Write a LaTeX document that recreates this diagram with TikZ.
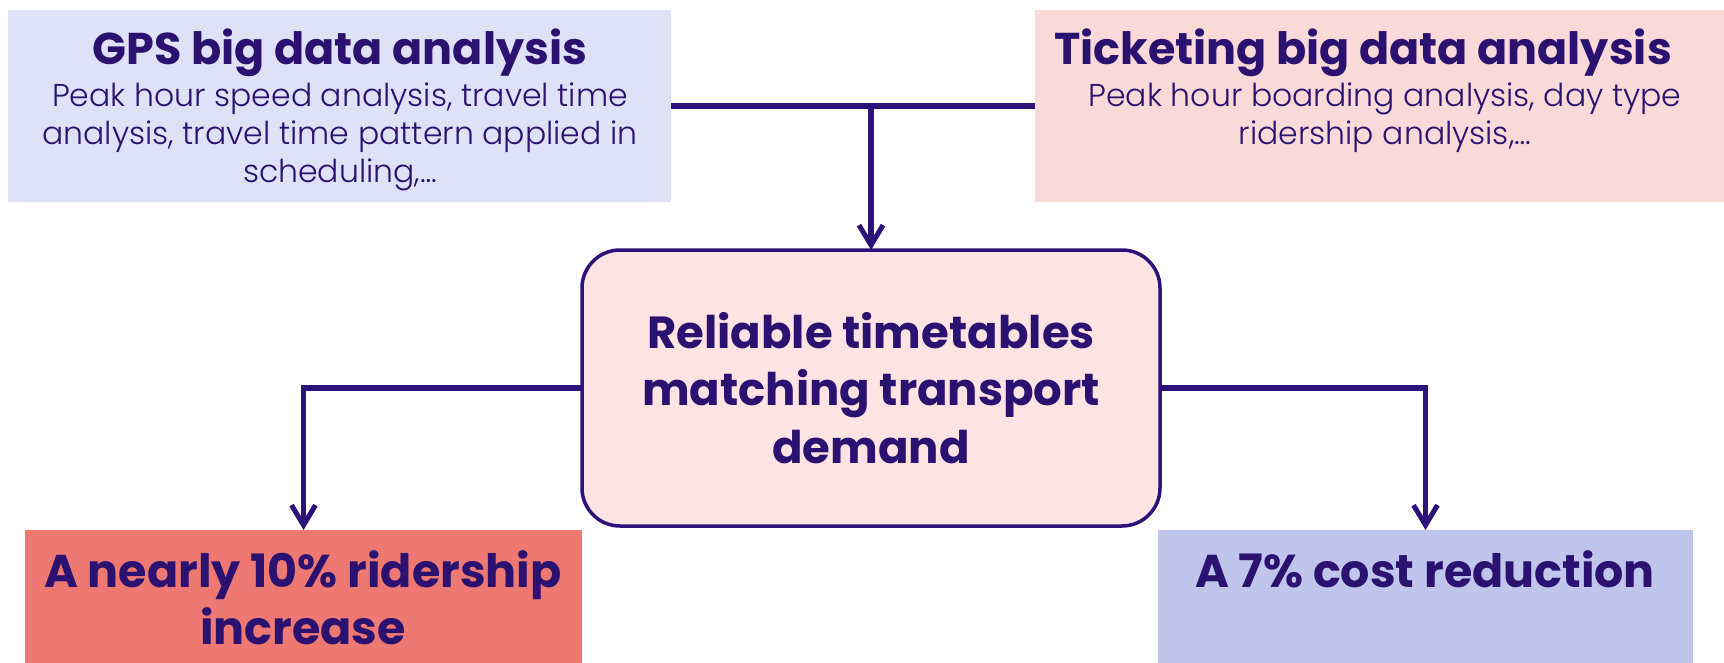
\documentclass[tikz,border=0pt]{standalone}
\usepackage{fontspec}
\setmainfont{Poppins}[BoldFont={* Bold}]
\newfontfamily\lightfont{Poppins}[UprightFont={* Light}]
\usetikzlibrary{arrows.meta}
\definecolor{txt}{HTML}{2B1170}
\definecolor{ln}{HTML}{2C137A}
\definecolor{gpsfill}{HTML}{DFE1F6}
\definecolor{tickfill}{HTML}{FAD9D9}
\definecolor{cenfill}{HTML}{FDE3E1}
\definecolor{resAfill}{HTML}{EE7973}
\definecolor{resBfill}{HTML}{C0C5EC}
\tikzset{
  box/.style={draw=none,inner sep=0,outer sep=0,anchor=north west},
  ttl/.style={anchor=base,inner sep=0,text=txt,font=\fontsize{44.5}{50}\selectfont\bfseries},
  sub/.style={anchor=base,inner sep=0,text=txt,font=\lightfont\fontsize{31.5}{38}\selectfont},
  big/.style={anchor=base,inner sep=0,text=txt,font=\fontsize{45}{57}\selectfont\bfseries},
  bigB/.style={big,font=\fontsize{46}{57}\selectfont\bfseries},
  conn/.style={draw=ln,line width=5.5pt},
  tip/.style={-{Straight Barb[length=20pt,width=24pt,line width=5pt]}}
}
\begin{document}
\begin{tikzpicture}[x=1pt,y=-1pt]
\useasboundingbox (0,0) rectangle (1724,663);
% boxes
\node[box,fill=gpsfill,minimum width=663pt,minimum height=192pt] (gps) at (8,10) {};
\node[box,fill=tickfill,minimum width=689pt,minimum height=192pt] (tick) at (1035,10) {};
\node[box,fill=cenfill,draw=ln,line width=3.5pt,rounded corners=38pt,minimum width=578pt,minimum height=276pt] (cen) at (582,250) {};
\node[box,fill=resAfill,minimum width=557pt,minimum height=133pt] (resA) at (25,530) {};
\node[box,fill=resBfill,minimum width=535pt,minimum height=133pt] (resB) at (1158,530) {};
% texts
\node[ttl] (gpsT) at (340,65) {GPS big data analysis};
\node[sub] (gps1) at (340,107) {Peak hour speed analysis, travel time};
\node[sub] (gps2) at (340,145) {analysis, travel time pattern applied in};
\node[sub] (gps3) at (340,183) {scheduling,…};
\node[ttl] (tickT) at (1363,65) {Ticketing big data analysis};
\node[sub] (tick1) at (1385,107) {Peak hour boarding analysis, day type};
\node[sub] (tick2) at (1385,145) {ridership analysis,…};
\node[big] (cen1) at (871,348) {Reliable timetables};
\node[big] (cen2) at (871,405) {matching transport};
\node[big] (cen3) at (871,463) {demand};
\node[bigB] (resA1) at (303,587) {A nearly 10\% ridership};
\node[bigB] (resA2) at (303,644) {increase};
\node[bigB] (resB1) at (1425,587) {A 7\% cost reduction};
% connectors
\draw[conn] (gps.east) -- (tick.west);
\draw[conn,tip] (gps.east -| cen.north) -- (cen.north);
\draw[conn,tip] (cen.west) -| (resA.north);
\draw[conn,tip] (cen.east) -| (resB.north);
\end{tikzpicture}
\end{document}
